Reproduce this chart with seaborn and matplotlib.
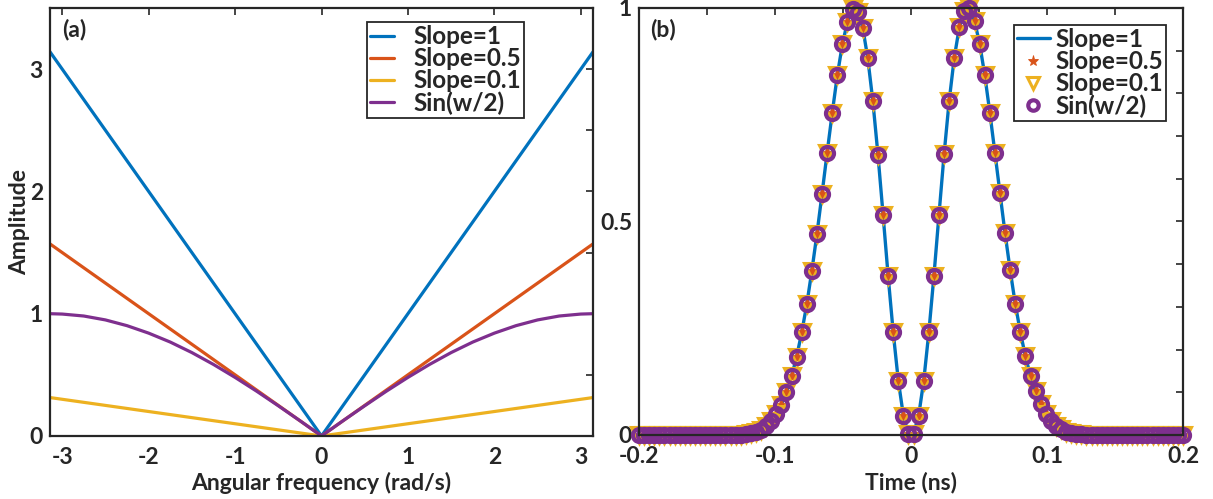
import numpy as np
import pandas as pd
import matplotlib
matplotlib.use("Agg")
import matplotlib.pyplot as plt
import seaborn as sns

# ---------------- data ----------------
# (a) frequency responses
w_lin = [-np.pi, 0.0, np.pi]
slope1 = [3.1416, 0.0, 3.1416]
slope05 = [1.5708, 0.0, 1.5708]
slope01 = [0.3142, 0.0, 0.3142]

w_sin = [-3.1416, -3.0, -2.75, -2.5, -2.25, -2.0, -1.75, -1.5, -1.25, -1.0, -0.75, -0.5, -0.25, 0.0,
         0.25, 0.5, 0.75, 1.0, 1.25, 1.5, 1.75, 2.0, 2.25, 2.5, 2.75, 3.0, 3.1416]
sin_half = [1.000, 0.997, 0.981, 0.949, 0.902, 0.841, 0.768, 0.682, 0.585, 0.479, 0.366, 0.247, 0.125, 0.0,
            0.125, 0.247, 0.366, 0.479, 0.585, 0.682, 0.768, 0.841, 0.902, 0.949, 0.981, 0.997, 1.000]

# (b) time-domain output, 108 samples over [-0.2, 0.2] ns
t_ns = np.linspace(-0.2, 0.2, 108)
half_pos = [0.003, 0.045, 0.127, 0.240, 0.372, 0.516, 0.657, 0.782, 0.883, 0.955,
            0.992, 0.999, 0.969, 0.916, 0.843, 0.755, 0.661, 0.566, 0.472, 0.386,
            0.307, 0.241, 0.184, 0.138, 0.102, 0.072, 0.050, 0.033, 0.021, 0.013,
            0.008, 0.005, 0.003, 0.002, 0.001, 0.0, 0.0, 0.0, 0.0, 0.0,
            0.0, 0.0, 0.0, 0.0, 0.0, 0.0, 0.0, 0.0, 0.0, 0.0,
            0.0, 0.0, 0.0, 0.0]
half_neg = [0.002, 0.045, 0.127, 0.240, 0.372, 0.516, 0.656, 0.781, 0.882, 0.954,
            0.991, 0.998, 0.968, 0.915, 0.842, 0.754, 0.661, 0.565, 0.471, 0.385,
            0.306, 0.240, 0.183, 0.137, 0.101, 0.071, 0.049, 0.032, 0.020, 0.012,
            0.007, 0.004, 0.002, 0.001, 0.001, 0.0, 0.0, 0.0, 0.0, 0.0,
            0.0, 0.0, 0.0, 0.0, 0.0, 0.0, 0.0, 0.0, 0.0, 0.0,
            0.0, 0.0, 0.0, 0.0]
pulse = half_neg[::-1] + half_pos

labels = ["Slope=1", "Slope=0.5", "Slope=0.1", "Sin(w/2)"]

# ---------------- style ----------------
sns.set_theme(style="white")
plt.rcParams["font.family"] = ["Lato", "DejaVu Sans"]
plt.rcParams["font.weight"] = "bold"
TXT = "#262626"
plt.rcParams.update({
    "text.color": TXT, "axes.labelcolor": TXT,
    "xtick.color": TXT, "ytick.color": TXT,
    "axes.edgecolor": TXT, "axes.labelweight": "bold",
})
BLUE, ORANGE, YELLOW, PURPLE = "#0072BD", "#D95319", "#EDB120", "#7E2F8E"

fig = plt.figure(figsize=(12.13, 4.99), dpi=100)
ax1 = fig.add_axes([0.0412, 0.1263, 0.4477, 0.8577])
ax2 = fig.add_axes([0.5268, 0.1283, 0.4485, 0.8557])

FS = 16.5


def style_axes(ax):
    for s in ax.spines.values():
        s.set_linewidth(1.6)
        s.set_color(TXT)
    ax.tick_params(axis="both", direction="in", length=5, width=1.2, top=True, right=True,
                   labelsize=FS)
    ax.tick_params(axis="x", pad=8)
    ax.tick_params(axis="y", pad=5)


LEG = dict(fontsize=17.5, frameon=True, fancybox=False, framealpha=1, borderpad=0.12,
           labelspacing=-0.04, borderaxespad=0)

# ---------------- (a) ----------------
lw = 2.3
sns.lineplot(x=w_lin, y=slope1, ax=ax1, color=BLUE, lw=lw, label=labels[0], estimator=None, sort=False)
sns.lineplot(x=w_lin, y=slope05, ax=ax1, color=ORANGE, lw=lw, label=labels[1], estimator=None, sort=False)
sns.lineplot(x=w_lin, y=slope01, ax=ax1, color=YELLOW, lw=lw, label=labels[2], estimator=None, sort=False)
sns.lineplot(x=w_sin, y=sin_half, ax=ax1, color=PURPLE, lw=lw, label=labels[3], estimator=None, sort=False)
ax1.set_xlim(-np.pi, np.pi)
ax1.set_ylim(0, 3.5)
ax1.set_xticks([-3, -2, -1, 0, 1, 2, 3])
ax1.set_xticklabels(["-3", "-2", "-1", "0", "1", "2", "3"])
ax1.set_yticks(np.arange(0, 3.51, 0.5))
ax1.set_yticklabels(["0", "", "1", "", "2", "", "3", ""])
ax1.set_xlabel("Angular frequency (rad/s)", fontsize=FS, labelpad=3)
ax1.set_ylabel("Amplitude", fontsize=FS, labelpad=0)
style_axes(ax1)
ax1.text(0.022, 0.975, "(a)", transform=ax1.transAxes, fontsize=FS, va="top", ha="left")
leg1 = ax1.legend(loc="upper right", bbox_to_anchor=(0.873, 0.967),
                  handlelength=1.0, handletextpad=0.8, **LEG)
leg1.get_frame().set_edgecolor(TXT)
leg1.get_frame().set_linewidth(1.3)

# ---------------- (b) ----------------
dfb = pd.DataFrame({"t": t_ns, "y": pulse})
sns.lineplot(data=dfb, x="t", y="y", ax=ax2, color=BLUE, lw=2.4, label=labels[0],
             estimator=None, sort=False, clip_on=False)
sns.lineplot(data=dfb, x="t", y="y", ax=ax2, label=labels[1], estimator=None, sort=False,
             linestyle="", marker="*", markersize=10, color=ORANGE,
             markerfacecolor=ORANGE, markeredgecolor=ORANGE, markeredgewidth=0.6, clip_on=False)
sns.lineplot(data=dfb, x="t", y="y", ax=ax2, label=labels[2], estimator=None, sort=False,
             linestyle="", marker="v", markersize=11, color=YELLOW,
             markerfacecolor="none", markeredgecolor=YELLOW, markeredgewidth=2.2, clip_on=False)
sns.lineplot(data=dfb, x="t", y="y", ax=ax2, label=labels[3], estimator=None, sort=False,
             linestyle="", marker="o", markersize=9.4, color=PURPLE,
             markerfacecolor="none", markeredgecolor=PURPLE, markeredgewidth=3.0, clip_on=False)
ax2.set_xlim(-0.2, 0.2)
ax2.set_ylim(0, 1)
ax2.set_xticks(np.round(np.arange(-0.2, 0.201, 0.05), 2))
ax2.set_xticklabels(["-0.2", "", "-0.1", "", "0", "", "0.1", "", "0.2"])
ax2.set_yticks(np.round(np.arange(0, 1.01, 0.1), 1))
ax2.set_yticklabels(["0", "", "", "", "", "0.5", "", "", "", "", "1"])
ax2.set_xlabel("Time (ns)", fontsize=FS, labelpad=3)
ax2.set_ylabel("")
style_axes(ax2)
ax2.text(0.02, 0.975, "(b)", transform=ax2.transAxes, fontsize=FS, va="top", ha="left")
leg2 = ax2.legend(loc="upper right", bbox_to_anchor=(0.969, 0.960),
                  handlelength=1.35, handletextpad=0.25, **LEG)
leg2.get_frame().set_edgecolor(TXT)
leg2.get_frame().set_linewidth(1.3)
for h in leg2.legend_handles[1:]:
    h.set_markersize(h.get_markersize() * 0.8)

fig.savefig("out.png", dpi=100)
